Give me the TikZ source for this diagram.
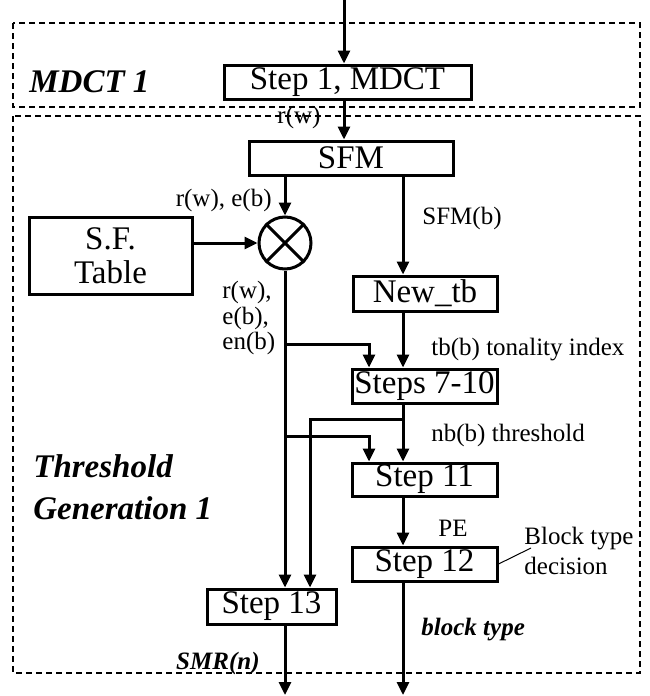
\documentclass[tikz,border=0pt]{standalone}
\usepackage{fontspec}
\setmainfont{Liberation Serif}
\tikzset{b/.style={draw,line width=1.5pt,inner sep=0pt,align=center,font=\fontsize{16.5}{17}\selectfont},
	lb/.style={inner sep=0pt,font=\fontsize{12.5}{12.75}\selectfont},
	t/.style={inner sep=0pt,align=left,font=\fontsize{16.5}{21}\selectfont\bfseries\itshape},
	ts/.style={inner sep=0pt,font=\fontsize{12.5}{13}\selectfont\bfseries\itshape},
	arr/.style={line width=1.5pt,-{Triangle[length=6.5pt,width=6pt]}},
	bx/.style={line width=1pt,dash pattern=on 3pt off 2pt}}
\usetikzlibrary{positioning,calc,arrows.meta}
\begin{document}
\begin{tikzpicture}[x=0.5pt,y=-0.5pt]
	\useasboundingbox (0,0) rectangle (649,696);
		% the two dashed frames
		\draw[bx] (13,23) rectangle (640,107);
		\draw[bx] (13,116) rectangle (640,673);
		\node[t,anchor=west] (mdct) at (29,82) {MDCT 1};
		\node[t,anchor=west] (thr) at (33,487) {Threshold\\Generation 1};

	\coordinate (in) at (344,0);
	\coordinate (o1) at (285,695);
	\coordinate (o2) at (403,695);
	\coordinate (sx) at (369,0);
	\coordinate (tx) at (310,0);
	\coordinate (j1) at (285,344);
	\coordinate (j2) at (403,419);
	\coordinate (j3) at (285,436);

		\node[b,minimum width=123.5pt,minimum height=17pt] (step1) at (347.5,82) {Step 1, MDCT};
		\node[b,minimum width=102pt,minimum height=17pt] (sfm) at (351,158) {SFM};
		\node[b,minimum width=81.5pt,minimum height=38.5pt] (sft) at (110.5,255.5) {S.F.\\Table};
		\node[draw,circle,line width=1.5pt,minimum size=26pt,inner sep=0pt] (mult) at (285,243) {};
		\draw[line width=1.5pt] (mult.north west) -- (mult.south east) (mult.north east) -- (mult.south west);
		\node[b,minimum width=72pt,minimum height=17.5pt] (newtb) at (425,293.5) {New\_tb};
		\node[b,minimum width=72.5pt,minimum height=17pt] (steps) at (424.5,386) {Steps 7-10};
		\node[b,minimum width=72.5pt,minimum height=16.5pt] (step11) at (424.5,479.5) {Step 11};
		\node[b,minimum width=72.5pt,minimum height=17pt] (step12) at (424.5,564) {Step 12};
		\node[b,minimum width=64.5pt,minimum height=17.5pt] (step13) at (271.5,606.5) {Step 13};

	% labels
	\node[lb] (rw) at (299,117) {r(w)};
	\node[lb,anchor=east] (rwe) at (272,200) {r(w), e(b)};
	\node[lb,anchor=west] (sfmb) at (422,218) {SFM(b)};
	\node[lb,anchor=west,align=left] (rwen) at (222,318) {r(w),\\e(b),\\en(b)};
	\node[lb,anchor=west] (tb) at (431,350) {tb(b) tonality index};
	\node[lb,anchor=west] (nb) at (431,435) {nb(b) threshold};
	\node[lb] (pe) at (453,528) {PE};
	\node[lb,anchor=west,align=left,font=\fontsize{12.5}{15}\selectfont] (bt) at (524,551) {Block type\\decision};
	\node[ts,anchor=west] (btype) at (421,630) {block type};
	\node[ts,anchor=east] (smr) at (260,663) {SMR(n)};

		\draw[arr] (in) -- (in |- step1.north);
		\draw[arr] (in |- step1.south) -- (in |- sfm.north);
		\draw[arr] (sfm.south -| mult) -- (mult.north);
		\draw[arr] (sfm.south -| o2) -- (newtb.north -| o2);
		\draw[arr] (sft.east |- mult) -- (mult.west);
		\draw[arr] (mult.south) -- (mult.south |- step13.north);
		\draw[arr] (j1) -| (steps.north -| sx);
		\draw[arr] (newtb.south -| o2) -- (steps.north -| o2);
		\draw[arr] (steps.south -| o2) -- (step11.north -| o2);
		\draw[arr] (j2) -| (step13.north -| tx);
		\draw[arr] (j3) -| (step11.north -| sx);
		\draw[arr] (step11.south -| o2) -- (step12.north -| o2);
		\draw[arr] (step12.south -| o2) -- (o2);
		\draw[arr] (step13.south -| o1) -- (o1);
		\draw[line width=0.5pt] (step12.east) -- ($(bt.west)+(7,-3)$);
\end{tikzpicture}
\end{document}
